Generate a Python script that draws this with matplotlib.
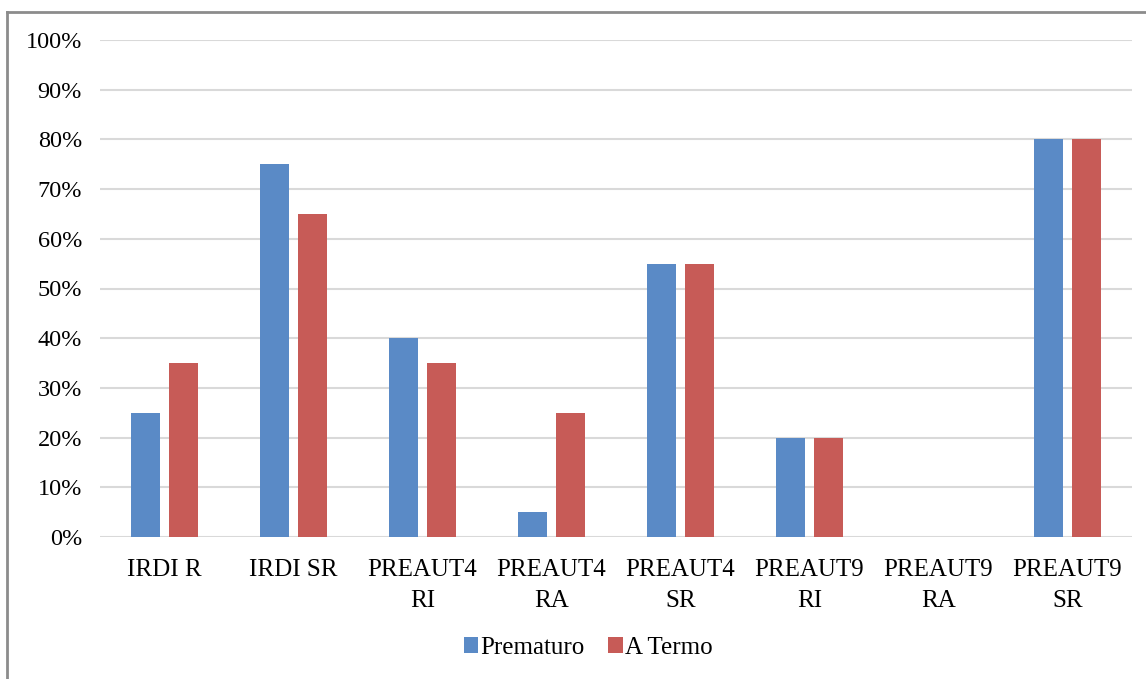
import matplotlib
matplotlib.use("Agg")
import matplotlib.pyplot as plt
import numpy as np
from matplotlib.ticker import PercentFormatter

plt.rcParams['font.family'] = ['Liberation Serif', 'DejaVu Serif']

categories = ["IRDI R", "IRDI SR", "PREAUT4\nRI", "PREAUT4\nRA",
              "PREAUT4\nSR", "PREAUT9\nRI", "PREAUT9\nRA", "PREAUT9\nSR"]
prematuro = [25, 75, 40, 5, 55, 20, 0, 80]
a_termo = [35, 65, 35, 25, 55, 20, 0, 80]
series_names = ["Prematuro", "A Termo"]
y_ticks = [0, 10, 20, 30, 40, 50, 60, 70, 80, 90, 100]

blue = "#5A8AC6"
red = "#C75B57"

fig = plt.figure(figsize=(11.46, 6.79), dpi=100)
ax = fig.add_axes([100 / 1146, 1 - 537 / 679, 1032 / 1146, 497 / 679])

x = np.arange(len(categories))
w = 0.225
off = 0.145
ax.bar(x - off, prematuro, width=w, color=blue, label=series_names[0], zorder=3)
ax.bar(x + off, a_termo, width=w, color=red, label=series_names[1], zorder=3)

ax.set_xlim(-0.5, len(categories) - 0.5)
ax.set_ylim(0, 100)
ax.set_yticks(y_ticks)
ax.yaxis.set_major_formatter(PercentFormatter(decimals=0))
ax.grid(axis='y', color='#D9D9D9', linewidth=1.5, zorder=0)
for s in ax.spines.values():
    s.set_visible(False)
ax.tick_params(axis='both', length=0, colors='black')
ax.tick_params(axis='y', pad=13, labelsize=17.5)
ax.tick_params(axis='x', pad=16, labelsize=18)
ax.set_xticks(x)
ax.set_xticklabels(categories, linespacing=1.5)

leg = fig.legend(loc='center', bbox_to_anchor=(588 / 1146, 1 - 648 / 679), ncol=2,
                 frameon=False, fontsize=18, handlelength=0.58,
                 handleheight=0.58, handletextpad=0.08, columnspacing=0.95)

# outer chart border (left and top edges visible)
fig.add_artist(plt.Line2D([7 / 1146, 7 / 1146], [0, 1 - 12 / 679],
                          transform=fig.transFigure, color='#8C8C8C', linewidth=2))
fig.add_artist(plt.Line2D([7 / 1146, 1], [1 - 12 / 679, 1 - 12 / 679],
                          transform=fig.transFigure, color='#8C8C8C', linewidth=2))

fig.savefig("out.png", dpi=100, facecolor='white')
